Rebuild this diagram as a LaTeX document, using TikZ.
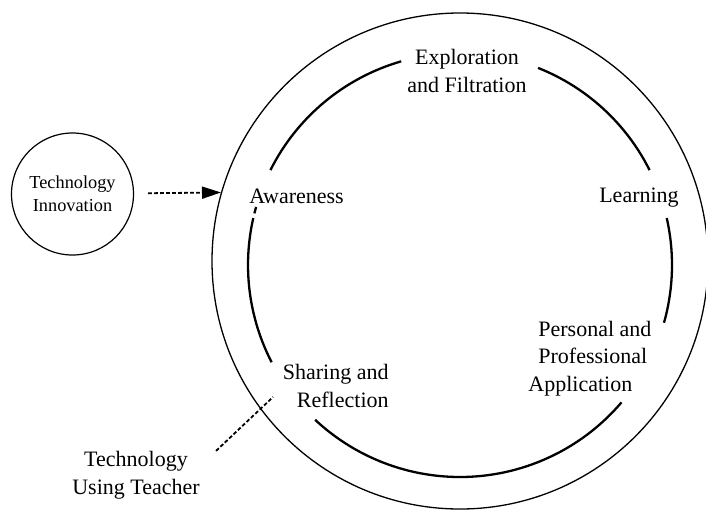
\documentclass[tikz,border=0pt]{standalone}
\usepackage{fontspec}
\setmainfont{Liberation Serif}
\usetikzlibrary{arrows.meta}

% piece of the inner ring, from one angle to another
\newcommand\ringarc[2]{\draw[ring] (460,265) ++(#1:212) arc[start angle=#1, end angle=#2, radius=212];}

\begin{document}
\begin{tikzpicture}[x=0.5pt, y=-0.5pt,
    stage/.style={font=\fontsize{11}{13.75}\selectfont, inner sep=0pt},
    ring/.style={line width=1.15pt},
    feed/.style={line width=0.9pt, dash pattern=on 1.9pt off 1.1pt, -{Triangle[length=9.5pt,width=6pt]}},
    pointer/.style={line width=0.9pt, dash pattern=on 1.9pt off 1.1pt}]
	\useasboundingbox (0,0) rectangle (706,510);

    % outer cycle and the broken inner ring
	\node[draw, circle, line width=0.65pt, minimum size=248pt, inner sep=0pt] (cycle) at (460,261) {};
	\ringarc{-68.4}{-26.6}
	\ringarc{-12.8}{15.8}
	\ringarc{40.4}{133.1}
	\ringarc{152.7}{192.8}
	\ringarc{194.1}{195.9}
	\ringarc{206.6}{253.9}

    % stages
	\node[stage, align=center] (explore) at (467,71) {Exploration\\and Filtration};
	\node[stage, anchor=base] (aware) at (296.5,203) {Awareness};
	\node[stage, anchor=base] (learn) at (639,202) {Learning};
	\node[stage, align=left, anchor=west] (apply) at (538,358.5) {Personal and\\Professional\\\hspace*{-5pt}Application};
	\node[stage, align=right, anchor=east] (share) at (389,386) {Sharing and\\Reflection};

    % outside
	\node[draw, circle, line width=0.6pt, minimum size=61pt, inner sep=0pt, align=center,
	      font=\fontsize{9.15}{11.5}\selectfont] (innov) at (72.5,194) {Technology\\Innovation};
	\node[stage, align=center] (teacher) at (136,475) {Technology\\Using Teacher};
	\coordinate (touch) at (273,397);

	\draw[feed, shorten <=7pt] (innov) -- (cycle.164.3);
	\draw[pointer] ([xshift=8pt]teacher.north east) -- (touch);
\end{tikzpicture}
\end{document}
